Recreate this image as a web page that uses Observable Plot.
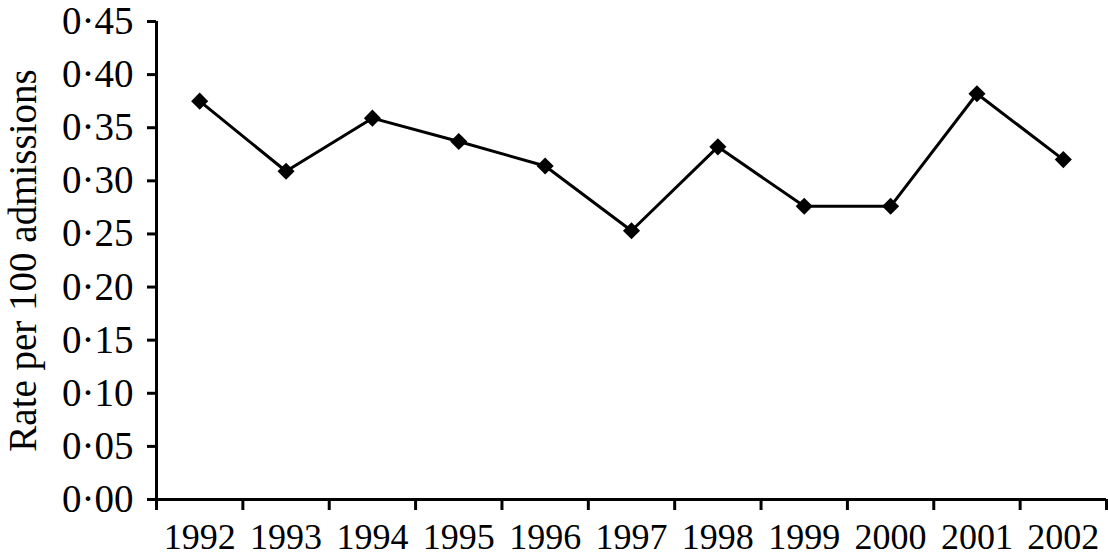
<!DOCTYPE html>
<html>
<head>
<meta charset="utf-8">
<script src="https://cdn.jsdelivr.net/npm/d3@7"></script>
<script src="https://cdn.jsdelivr.net/npm/@observablehq/plot@0.6"></script>
<style>
  html, body { margin: 0; padding: 0; background: #fff; }
</style>
</head>
<body>
<div id="chart"></div>
<script>
const years = [1992, 1993, 1994, 1995, 1996, 1997, 1998, 1999, 2000, 2001, 2002];
const rates = [0.375, 0.309, 0.359, 0.337, 0.314, 0.253, 0.332, 0.276, 0.276, 0.382, 0.320];
const yTicks = [0, 0.05, 0.10, 0.15, 0.20, 0.25, 0.30, 0.35, 0.40, 0.45];
const yTitle = "Rate per 100 admissions";

const data = years.map((year, i) => ({year, rate: rates[i]}));
const xDomain = [years[0] - 0.5, years[years.length - 1] + 0.5];
const boundaries = years.map(y => y - 0.5).concat([years[years.length - 1] + 0.5]);
const fmt = d => d3.format(".2f")(d).replace(".", "·");

const chart = Plot.plot({
  width: 1108,
  height: 559,
  marginLeft: 156,
  marginRight: 2,
  marginTop: 21,
  marginBottom: 60,
  style: {fontFamily: "'Liberation Serif', 'Times New Roman', serif", fontSize: "36px", color: "#000", background: "#fff", overflow: "visible"},
  x: {domain: xDomain},
  y: {domain: [0, 0.45]},
  marks: [
    Plot.axisY({ticks: yTicks, tickFormat: fmt, tickSize: 9, tickPadding: 14, strokeWidth: 3,
      label: yTitle, labelAnchor: "center", labelArrow: "none", labelOffset: 148, fontSize: 39}),
    Plot.axisX({ticks: years, tickFormat: d => String(d), tickSize: 0, tickPadding: 24, label: null}),
    Plot.axisX({ticks: boundaries, tickFormat: () => "", tickSize: 11, strokeWidth: 3, label: null}),
    Plot.ruleY([0], {stroke: "#000", strokeWidth: 3}),
    Plot.ruleX([xDomain[0]], {stroke: "#000", strokeWidth: 3}),
    Plot.line(data, {x: "year", y: "rate", stroke: "#000", strokeWidth: 3}),
    Plot.dot(data, {x: "year", y: "rate", symbol: "diamond2", r: 7.7, fill: "#000", stroke: "none"})
  ]
});
document.getElementById("chart").appendChild(chart);
</script>
</body>
</html>
